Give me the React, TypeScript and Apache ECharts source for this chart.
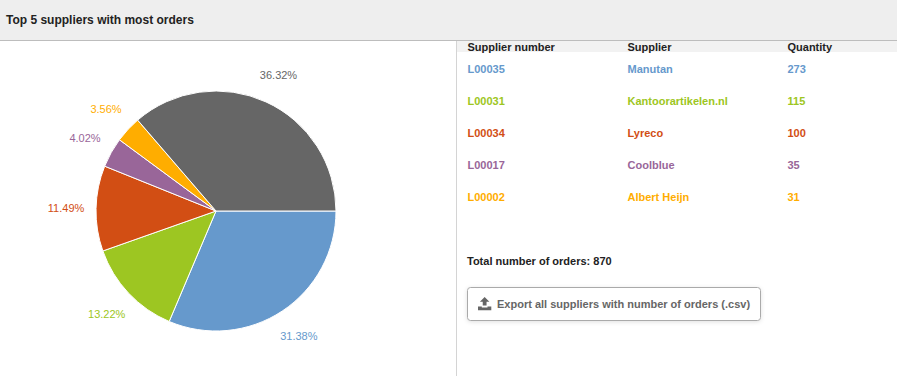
import React, { useEffect, useRef } from "react";
import * as echarts from "echarts";

const numbers = ["L00035", "L00031", "L00034", "L00017", "L00002"];
const suppliers = ["Manutan", "Kantoorartikelen.nl", "Lyreco", "Coolblue", "Albert Heijn"];
const quantities = [273, 115, 100, 35, 31];
const otherQuantity = 316;
const colors = ["#6699cc", "#9dc622", "#d24e14", "#996699", "#ffad00"];
const otherColor = "#666666";
const headers = ["Supplier number", "Supplier", "Quantity"];
const title = "Top 5 suppliers with most orders";
const totalLabel = "Total number of orders: 870";
const exportLabel = "Export all suppliers with number of orders (.csv)";

const FONT = "'Liberation Sans', Arial, sans-serif";
const columnX = [467.5, 627.5, 787.5];
const rowY = [69, 101, 133, 165, 197];
const pieCenter = [216, 211];
const pieRadius = 120;
const labelRadius = 150;

echarts.graphic.registerShape(
  "uploadIcon",
  echarts.graphic.extendPath(
    "M7 0L12 5L9 5L9 9L5 9L5 5L2 5ZM0 10L4 10L4 11L10 11L10 10L14 10L14 14L0 14Z",
    {}
  ) as any
);

const txt = (x: number, y: number, text: string, fill: string, bold = true, size = 11) => ({
  type: "text",
  x,
  y,
  silent: true,
  style: {
    text,
    fill,
    font: `${bold ? "bold " : ""}${size}px ${FONT}`,
    verticalAlign: "middle",
  },
});

export default function App() {
  const ref = useRef<HTMLDivElement>(null);
  useEffect(() => {
    const chart = echarts.init(ref.current!, undefined, { renderer: "svg" });
    const values = [...quantities, otherQuantity];
    const total = values.reduce((a, b) => a + b, 0);
    const elements: any[] = [
      { type: "rect", shape: { x: 0, y: 0, width: 897, height: 40 }, style: { fill: "#eeeeee" }, z: -2 },
      { type: "rect", shape: { x: 0, y: 40, width: 897, height: 1 }, style: { fill: "#bdbdbd" }, z: -1 },
      { type: "rect", shape: { x: 456, y: 41, width: 1, height: 335 }, style: { fill: "#d4d4d4" }, z: -1 },
      { type: "rect", shape: { x: 457, y: 41, width: 440, height: 11 }, style: { fill: "#f2f2f2" }, z: -1 },
      txt(6, 20, title, "#222222", true, 12),
      ...headers.map((h, i) => txt(columnX[i], 47, h, "#222222")),
      ...numbers.flatMap((n, i) => [
        txt(columnX[0], rowY[i], n, colors[i]),
        txt(columnX[1], rowY[i], suppliers[i], colors[i]),
        txt(columnX[2], rowY[i], String(quantities[i]), colors[i]),
      ]),
      txt(467, 261, totalLabel, "#222222"),
      {
        type: "rect",
        shape: { x: 467.5, y: 287.5, width: 293, height: 33, r: 3 },
        style: {
          fill: "#ffffff",
          stroke: "#aaaaaa",
          lineWidth: 1,
          shadowBlur: 4,
          shadowColor: "rgba(0,0,0,0.12)",
          shadowOffsetY: 1,
        },
      },
      { type: "uploadIcon", x: 478, y: 297, scaleX: 0.95, scaleY: 0.95, style: { fill: "#666666" } },
      txt(497, 304, exportLabel, "#666666"),
    ];
    chart.setOption({
      animation: false,
      graphic: { elements },
      series: [
        {
          type: "pie",
          center: pieCenter,
          radius: [0, pieRadius],
          startAngle: 0,
          clockwise: true,
          z: 5,
          itemStyle: { borderColor: "#ffffff", borderWidth: 1 },
          label: {
            show: true,
            position: "outer",
            overflow: "none",
            formatter: (p: any) => `${((p.value / total) * 100).toFixed(2)}%`,
            fontFamily: FONT,
            fontSize: 11,
          },
          labelLine: { show: false },
          labelLayout: (p: any) => {
            const before = values.slice(0, p.dataIndex).reduce((a, b) => a + b, 0);
            const angle = ((before + values[p.dataIndex] / 2) / total) * 2 * Math.PI;
            return {
              x: pieCenter[0] + labelRadius * Math.cos(angle),
              y: pieCenter[1] + labelRadius * Math.sin(angle),
              align: "center",
              verticalAlign: "middle",
            };
          },
          emphasis: { disabled: true },
          data: [
            ...suppliers.map((s, i) => ({
              name: s,
              value: quantities[i],
              itemStyle: { color: colors[i] },
              label: { color: colors[i] },
            })),
            { name: "Other", value: otherQuantity, itemStyle: { color: otherColor }, label: { color: otherColor } },
          ],
        },
      ],
    });
    return () => chart.dispose();
  }, []);
  return (
    <div
      ref={ref}
      style={{ position: "absolute", left: 0, top: 0, width: 897, height: 376, background: "#ffffff" }}
    />
  );
}
